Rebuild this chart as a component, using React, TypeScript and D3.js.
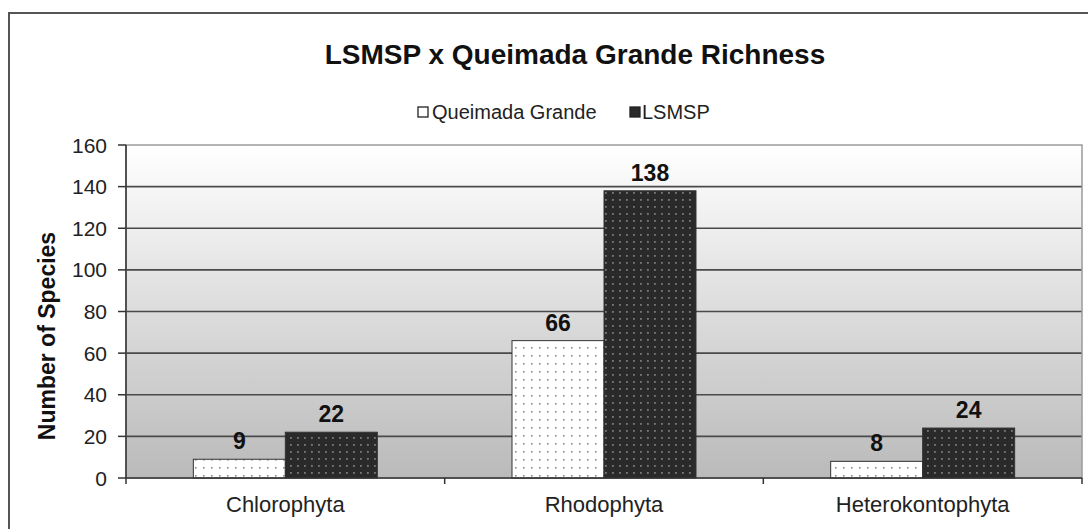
import React from "react";
import * as d3 from "d3";

const categories = ["Chlorophyta", "Rhodophyta", "Heterokontophyta"];
const seriesNames = ["Queimada Grande", "LSMSP"];
const queimadaGrande = [9, 66, 8];
const lsmsp = [22, 138, 24];
const yTicks = [0, 20, 40, 60, 80, 100, 120, 140, 160];

const W = 1088;
const H = 529;
const plot = { left: 126, right: 1082, top: 145, bottom: 478 };
const font = "'Liberation Sans', Arial, sans-serif";

export default function App() {
  const x = d3.scaleBand().domain(categories).range([plot.left, plot.right]).paddingInner(0).paddingOuter(0);
  const y = d3.scaleLinear().domain([0, 160]).range([plot.bottom, plot.top]);
  const groupFrac = 184 / 318.7;
  const inner = d3
    .scaleBand()
    .domain(seriesNames)
    .range([(x.bandwidth() * (1 - groupFrac)) / 2, (x.bandwidth() * (1 + groupFrac)) / 2]);
  const series = [
    { name: seriesNames[0], values: queimadaGrande, fill: "url(#dotsLight)" },
    { name: seriesNames[1], values: lsmsp, fill: "url(#dotsDark)" },
  ];

  return (
    <svg width={W} height={H} style={{ position: "absolute", left: 0, top: 0, background: "#fff" }}>
      <defs>
        <linearGradient id="bg" x1="0" y1="0" x2="0" y2="1">
          <stop offset="0" stopColor="#ffffff" />
          <stop offset="1" stopColor="#bababa" />
        </linearGradient>
        <pattern id="dotsLight" width="8" height="8" patternUnits="userSpaceOnUse">
          <rect width="8" height="8" fill="#ffffff" />
          <rect x="3" y="3" width="1.6" height="1.6" fill="#8a8a8a" />
        </pattern>
        <pattern id="dotsDark" width="7" height="7" patternUnits="userSpaceOnUse">
          <rect width="7" height="7" fill="#2a2a2a" />
          <rect x="3" y="3" width="1.8" height="1.8" fill="#7a7a7a" />
        </pattern>
      </defs>
      <rect x={0} y={0} width={W} height={H} fill="#fff" />
      {/* outer frame */}
      <rect x={9} y={13} width={W + 20} height={H + 20} fill="none" stroke="#555" strokeWidth={2} />

      {/* title */}
      <text x={575} y={64} textAnchor="middle" fontFamily={font} fontWeight="bold" fontSize={28} fill="#111">
        LSMSP x Queimada Grande Richness
      </text>

      {/* legend */}
      <g fontFamily={font} fontSize={20} fill="#222">
        <rect x={418} y={107} width={10} height={10} fill="#fff" stroke="#222" strokeWidth={1.3} />
        <text x={432} y={119}>{seriesNames[0]}</text>
        <rect x={630} y={107} width={10} height={10} fill="#2a2a2a" stroke="#222" strokeWidth={1.3} />
        <text x={642} y={119}>{seriesNames[1]}</text>
      </g>

      {/* plot background */}
      <rect x={plot.left} y={plot.top} width={plot.right - plot.left} height={plot.bottom - plot.top} fill="url(#bg)" />
      {/* gridlines */}
      {yTicks.filter((t) => t > 0 && t < 160).map((t) => (
        <line key={t} x1={plot.left} x2={plot.right} y1={y(t)} y2={y(t)} stroke="#4a4a4a" strokeWidth={1.6} />
      ))}
      <rect x={plot.left} y={plot.top} width={plot.right - plot.left} height={plot.bottom - plot.top} fill="none" stroke="#9a9a9a" strokeWidth={1.5} />

      {/* bars */}
      {series.map((s) =>
        s.values.map((v, i) => {
          const bx = (x(categories[i]) as number) + (inner(s.name) as number);
          return (
            <rect
              key={s.name + i}
              x={bx}
              y={y(v)}
              width={inner.bandwidth()}
              height={y(0) - y(v)}
              fill={s.fill}
              stroke="#333"
              strokeWidth={1}
            />
          );
        })
      )}

      {/* data labels */}
      {series.map((s) =>
        s.values.map((v, i) => {
          const bx = (x(categories[i]) as number) + (inner(s.name) as number) + inner.bandwidth() / 2;
          return (
            <text
              key={"l" + s.name + i}
              x={bx}
              y={y(v) - 10}
              textAnchor="middle"
              fontFamily={font}
              fontWeight="bold"
              fontSize={23}
              fill="#111"
            >
              {v}
            </text>
          );
        })
      )}

      {/* y axis */}
      <line x1={plot.left} x2={plot.left} y1={plot.top} y2={plot.bottom} stroke="#333" strokeWidth={1.5} />
      {yTicks.map((t) => (
        <g key={"t" + t}>
          <line x1={plot.left - 8} x2={plot.left} y1={y(t)} y2={y(t)} stroke="#333" strokeWidth={1.5} />
          <text x={107} y={y(t) + 7.5} textAnchor="end" fontFamily={font} fontSize={21} fill="#222">
            {t}
          </text>
        </g>
      ))}

      {/* x axis */}
      <line x1={plot.left} x2={plot.right} y1={plot.bottom} y2={plot.bottom} stroke="#333" strokeWidth={1.5} />
      {[0, 1, 2, 3].map((k) => {
        const xx = plot.left + k * x.step();
        return <line key={"xt" + k} x1={xx} x2={xx} y1={plot.bottom} y2={plot.bottom + 6} stroke="#333" strokeWidth={1.5} />;
      })}
      {categories.map((c) => (
        <text
          key={c}
          x={(x(c) as number) + x.bandwidth() / 2}
          y={512}
          textAnchor="middle"
          fontFamily={font}
          fontSize={22}
          fill="#222"
        >
          {c}
        </text>
      ))}

      {/* y label */}
      <text
        transform={`translate(55, 336) rotate(-90)`}
        textAnchor="middle"
        fontFamily={font}
        fontWeight="bold"
        fontSize={23}
        fill="#111"
      >
        Number of Species
      </text>
    </svg>
  );
}
